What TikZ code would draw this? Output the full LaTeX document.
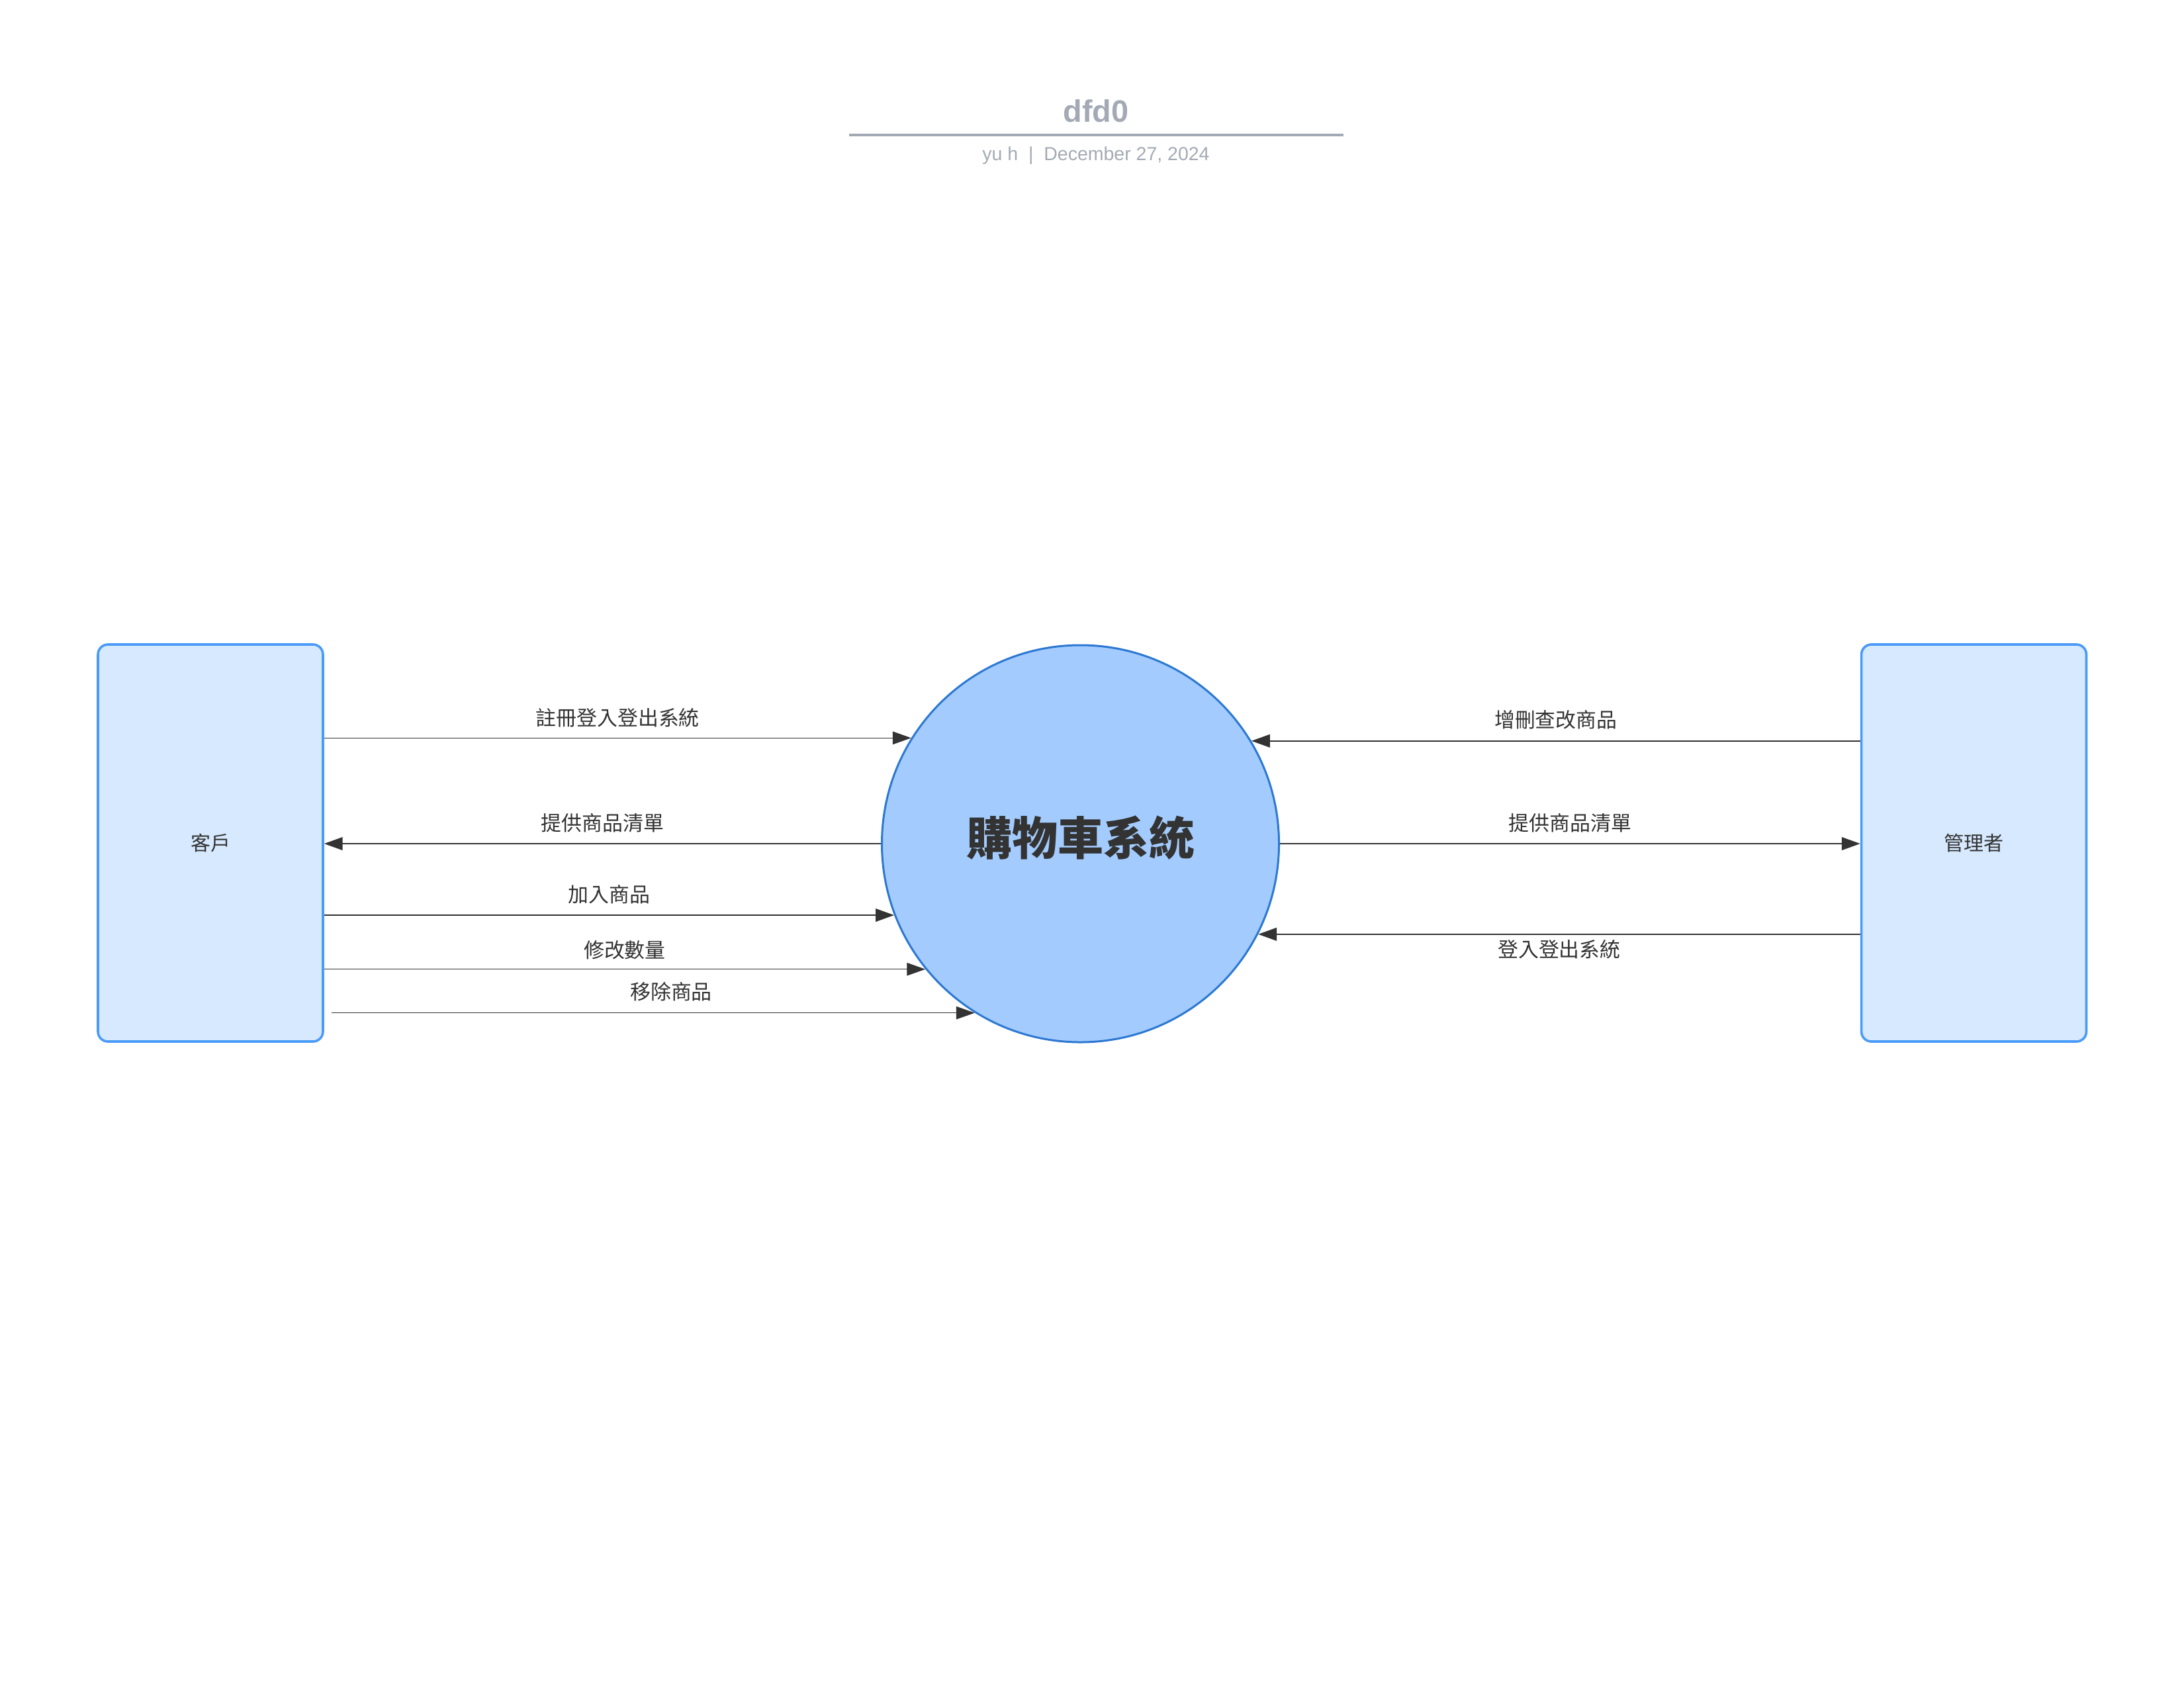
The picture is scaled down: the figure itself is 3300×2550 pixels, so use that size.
\documentclass[tikz,border=0pt]{standalone}
\usepackage{fontspec}
\setmainfont{Liberation Sans}
\newfontfamily\cjk{Noto Sans CJK TC}
\usetikzlibrary{arrows.meta}
\definecolor{ink}{HTML}{333333}
\definecolor{titlegray}{RGB}{164,170,181}
\definecolor{boxfill}{RGB}{214,233,254}
\definecolor{boxline}{RGB}{74,155,248}
\definecolor{procfill}{RGB}{163,203,253}
\definecolor{procline}{RGB}{44,120,210}
\tikzset{
  entity/.style={draw=boxline, fill=boxfill, line width=1.2pt, rounded corners=5pt,
    minimum width=113.3pt, minimum height=200pt, inner sep=0pt,
    text=ink, font=\cjk\fontsize{10}{12}\selectfont},
  process/.style={circle, draw=procline, fill=procfill, line width=1pt,
    minimum size=200pt, inner sep=0pt, text=ink, font=\cjk\bfseries\fontsize{23}{27}\selectfont},
  flow/.style={draw=ink, -{Triangle[length=9.3pt,width=6.5pt]}},
  thinflow/.style={flow, line width=0.4pt},
  thickflow/.style={flow, line width=0.75pt},
  lbl/.style={text=ink, font=\cjk\fontsize{10.3}{12}\selectfont, inner sep=0pt},
  titletext/.style={text=titlegray, font=\bfseries\fontsize{15.6}{18}\selectfont, inner sep=0pt},
  subtext/.style={text=titlegray, font=\fontsize{9.5}{11}\selectfont, inner sep=0pt},
  titlerule/.style={draw=titlegray, line width=1.3pt}
}
\begin{document}
\begin{tikzpicture}[x=0.33333pt,y=-0.33333pt]
\useasboundingbox (0,0) rectangle (3300,2550);
% title block
\node[titletext, anchor=base] (title) at (1656,185) {dfd0};
\coordinate (ruleL) at (1283,204);
\coordinate (ruleR) at (2030,204);
\draw[titlerule] (ruleL) -- (ruleR);
\node[subtext, anchor=base] (sub) at (1656,242) {yu h \ | \ December 27, 2024};
% nodes
\node[entity] (cust) at (318,1274) {客戶};
\node[entity] (admin) at (2982.5,1274) {管理者};
\node[process] (sys) at (1632.5,1275) {\raisebox{3pt}[\height][\depth]{購物車系統}};
% left flows
\draw[thinflow] (cust.east |- sys.148.9) -- (sys.148.9)
  node[lbl, midway, yshift=10pt] {註冊登入登出系統};
\draw[thickflow] (sys.west) -- (cust.east |- sys.west)
  node[lbl, midway, yshift=10.3pt] {提供商品清單};
\draw[thickflow] (cust.east |- sys.201.1) -- (sys.201.1)
  node[lbl, midway, yshift=10.6pt] {加入商品};
\draw[thinflow] (cust.east |- sys.219.3) -- (sys.219.3)
  node[lbl, midway, yshift=9.8pt] {修改數量};
\draw[thinflow] ([xshift=3.7pt]cust.east |- sys.238.6) -- (sys.238.6)
  node[lbl, pos=0.528, yshift=10.6pt] {移除商品};
% right flows
\draw[thickflow] (admin.west |- sys.31.6) -- (sys.31.6)
  node[lbl, midway, yshift=10.6pt] {增刪查改商品};
\draw[thickflow] (sys.east) -- (admin.west |- sys.east)
  node[lbl, midway, yshift=10.3pt] {提供商品清單};
\draw[thickflow] (admin.west |- sys.333.5) -- (sys.333.5)
  node[lbl, midway, yshift=-7.7pt] {登入登出系統};
\end{tikzpicture}
\end{document}
